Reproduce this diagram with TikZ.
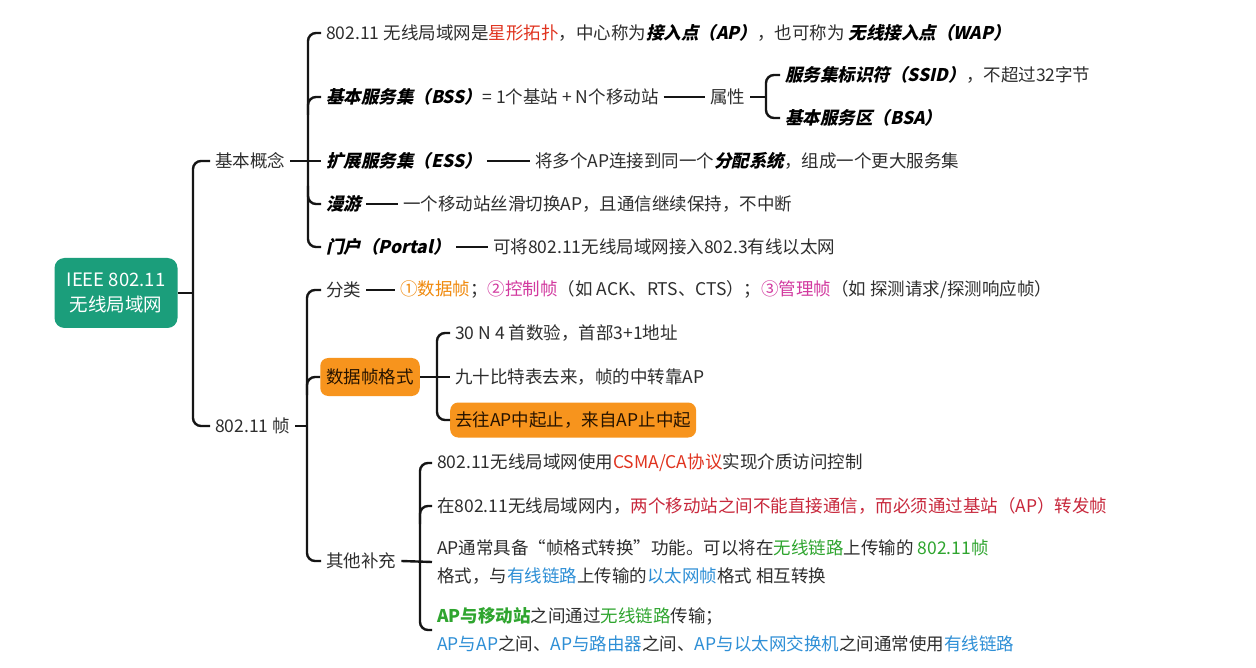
\documentclass[tikz,border=0pt]{standalone}
\usepackage{fontspec}
\setmainfont{Noto Sans CJK SC}
\newfontfamily\slfont{Noto Sans CJK SC}[FakeSlant=0.22]
\usetikzlibrary{calc}
\definecolor{txt}{HTML}{2E2E2E}
\definecolor{rootg}{HTML}{1B9E7B}
\definecolor{redA}{HTML}{E0331F}
\definecolor{crim}{HTML}{C8283C}
\definecolor{orgT}{HTML}{F08A0E}
\definecolor{boxO}{HTML}{F7941D}
\definecolor{mag}{HTML}{D2399F}
\definecolor{grn}{HTML}{2FA52F}
\definecolor{blu}{HTML}{2E8FD6}
\definecolor{lnc}{HTML}{151515}
\newcommand\bit[1]{{\slfont\bfseries\color{black}#1}}
\begin{document}
\begin{tikzpicture}[x=1pt,y=-1pt,
  tx/.style={anchor=west, inner xsep=5pt, inner ysep=2pt, text=txt, font=\fontsize{17.5}{28}\selectfont},
  ln/.style={line width=2.4pt, draw=lnc, rounded corners=8pt},
  rootbox/.style={fill=rootg, text=white, rounded corners=10pt, minimum width=123pt, minimum height=70pt, align=center, font=\fontsize{18.5}{25}\selectfont},
  obox/.style={fill=boxO, text=black!85!orange, rounded corners=8pt, minimum height=38pt, inner xsep=6pt, font=\fontsize{17.5}{21}\selectfont},
  obox2/.style={fill=boxO, text=black!85!orange, rounded corners=8pt, minimum height=35pt, inner xsep=5pt, anchor=west, font=\fontsize{17.5}{21}\selectfont}]
\fill[white] (0,0) rectangle (1256,668);
\useasboundingbox (0,0) rectangle (1256,668);

% root
\node[rootbox] (root) at (116,293) {IEEE 802.11\\无线局域网};
\node[tx] (jb) at (210,161) {基本概念};
\node[tx] (fr) at (210,426) {802.11 帧};
\draw[ln] (root.east) -- (193,293);
\draw[ln] (jb.west) -- (193,161) -- (193,426) -- (fr.west);

% basic concepts
\node[tx] (n1) at (321,33) {802.11 无线局域网是\textcolor{redA}{星形拓扑}，中心称为\bit{接入点（AP）}，也可称为 \bit{无线接入点（WAP）}};
\node[tx] (bss) at (321,97) {\bit{基本服务集（BSS）}= 1个基站 + N个移动站};
\node[tx] (attr) at (705,97) {属性};
\node[tx] (ssid) at (780,75) {\bit{服务集标识符（SSID）}，不超过32字节};
\node[tx] (bsa) at (780,118) {\bit{基本服务区（BSA）}};
\node[tx] (ess) at (321,161) {\bit{扩展服务集（ESS）}};
\node[tx] (essd) at (530,161) {将多个AP连接到同一个\bit{分配系统}，组成一个更大服务集};
\node[tx] (my) at (321,204) {\bit{漫游}};
\node[tx] (myd) at (398,204) {一个移动站丝滑切换AP，且通信继续保持，不中断};
\node[tx] (mh) at (321,247) {\bit{门户（Portal）}};
\node[tx] (mhd) at (488,247) {可将802.11无线局域网接入802.3有线以太网};

\draw[ln] (n1.west) -- (308,33) -- (308,247) -- (mh.west);
\draw[ln] (jb.east) -- (ess.west);
\draw[ln] (308,115) -- (308,97) -- (bss.west);
\draw[ln] (308,186) -- (308,204) -- (my.west);
\draw[ln] (bss.east) -- (attr.west);
\draw[ln] (attr.east) -- (766,97);
\draw[ln] (ssid.west) -- (766,75) -- (766,118) -- (bsa.west);
\draw[ln] (ess.east) -- (essd.west);
\draw[ln] (my.east) -- (myd.west);
\draw[ln] (mh.east) -- (mhd.west);

% frames
\node[tx] (fl) at (321,290) {分类};
\node[tx] (fld) at (395,290) {\textcolor{orgT}{①数据帧}；\textcolor{mag}{②控制帧}（如 ACK、RTS、CTS）；\textcolor{mag}{③管理帧}（如 探测请求/探测响应帧）};
\node[obox] (gs) at (370,377) {数据帧格式};
\node[tx] (qt) at (321,561) {其他补充};
\draw[ln] (fl.west) -- (307,290) -- (307,561) -- (qt.west);
\draw[ln] (fr.east) -- (307,426);
\draw[ln] (307,395) -- (307,377) -- (gs.west);
\draw[ln] (fl.east) -- (fld.west);

\node[tx] (g1) at (450,333) {30 N 4 首数验，首部3+1地址};
\node[tx] (g2) at (450,377) {九十比特表去来，帧的中转靠AP};
\node[obox2] (g3) at (450,420) {去往AP中起止，来自AP止中起};
\draw[ln] (g1.west) -- (437,333) -- (437,420) -- (g3.west);
\draw[ln] (gs.east) -- (g2.west);

\node[tx] (q1) at (432,463) {802.11无线局域网使用\textcolor{redA}{CSMA/CA协议}实现介质访问控制};
\node[tx] (q2) at (432,506) {在802.11无线局域网内，\textcolor{crim}{两个移动站之间不能直接通信，而必须通过基站（AP）转发帧}};
\node[tx, align=left] (q3) at (432,562) {AP通常具备“帧格式转换”功能。可以将在\textcolor{grn}{无线链路}上传输的 \textcolor{grn}{802.11帧}\\格式，与\textcolor{blu}{有线链路}上传输的\textcolor{blu}{以太网帧}格式 相互转换};
\node[tx, align=left] (q4) at (432,630) {\textcolor{grn}{\bfseries AP与移动站}之间通过\textcolor{grn}{无线链路}传输；\\\textcolor{blu}{AP与AP}之间、\textcolor{blu}{AP与路由器}之间、\textcolor{blu}{AP与以太网交换机}之间通常使用\textcolor{blu}{有线链路}};
\draw[ln] (q1.west) -- (420,463) -- (420,630) -- (q4.west);
\draw[ln] (qt.east) -- (q3.west);
\draw[ln] (420,524) -- (420,506) -- (q2.west);
\end{tikzpicture}
\end{document}
